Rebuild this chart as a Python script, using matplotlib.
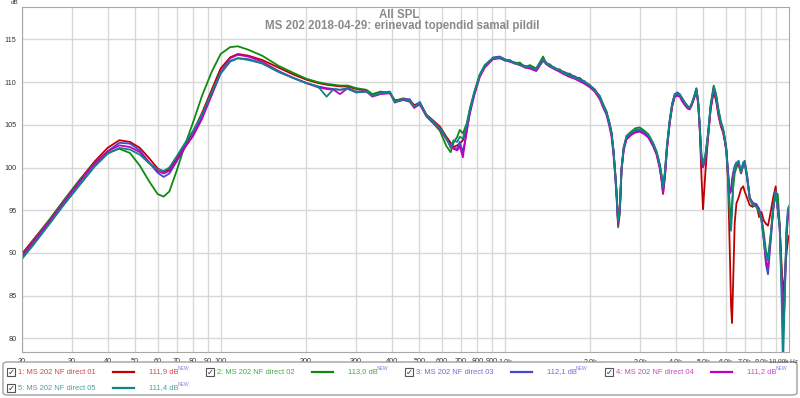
import matplotlib
matplotlib.use("Agg")
import matplotlib.pyplot as plt
from matplotlib.lines import Line2D
from matplotlib.patches import FancyBboxPatch, Rectangle

plt.rcParams["font.family"] = ["Liberation Sans", "DejaVu Sans"]

freq = [20, 22, 25, 28, 32, 36, 40, 44, 48, 52, 56, 60, 63, 66, 70, 75, 80, 86, 93, 100,
        108, 115, 125, 140, 160, 180, 200, 220, 236, 250, 263, 280, 300,
        326, 342, 365, 394, 410, 440, 463, 480, 502, 530, 560, 591, 623, 645, 660, 680, 694, 712,
        735, 753, 780, 816, 850, 885, 909, 960, 1000, 1041, 1080, 1129, 1180, 1224, 1290, 1364,
        1400, 1440, 1500, 1561, 1620, 1693, 1760, 1836, 1910, 1990, 2070, 2158, 2220, 2278, 2330,
        2374, 2410, 2439, 2470, 2504, 2540, 2574, 2620, 2680, 2780, 2880, 2984, 3100, 3200, 3324,
        3420, 3510, 3560, 3604, 3660, 3720, 3805, 3880, 3964, 4050, 4128, 4200, 4300, 4400, 4474,
        4550, 4640, 4722, 4790, 4851, 4920, 4983, 5080, 5188, 5300, 5433, 5540, 5650, 5760, 5861,
        5950, 6023, 6100, 6187, 6250, 6302, 6360, 6440, 6531, 6650, 6780, 6900, 6984, 7130, 7274,
        7450, 7680, 7850, 7998, 8150, 8300, 8435, 8600, 8800, 8977, 9130, 9272, 9400, 9524, 9650,
        9800, 9921, 10000]

spl_01 = [89.9, 91.6, 93.9, 96.1, 98.6, 100.7, 102.3, 103.2, 103.0, 102.3, 101.1, 99.9, 99.5, 99.8, 101.0, 102.7, 104.2, 106.4, 109.1, 111.6,
          112.9, 113.3, 113.1, 112.6, 111.7, 110.9, 110.3, 109.9, 109.7, 109.6, 109.5, 109.5, 109.2,
          109.0, 108.5, 108.8, 108.8, 107.8, 108.1, 107.9, 107.3, 107.6, 106.2, 105.5, 104.8, 103.6, 102.9, 102.4, 102.6, 102.8, 103.2,
          104.8, 106.6, 108.6, 110.8, 111.9, 112.4, 112.8, 112.8, 112.6, 112.5, 112.3, 112.2, 111.8, 111.9, 111.5, 112.8,
          112.2, 112.0, 111.6, 111.4, 111.1, 110.9, 110.6, 110.4, 110.0, 109.6, 109.1, 108.3, 107.2, 106.5, 105.2,
          104.0, 102.0, 100.0, 97.5, 93.8, 95.5, 99.8, 102.2, 103.4, 103.9, 104.2, 104.3, 104.0, 103.6, 102.6,
          101.6, 100.0, 98.6, 96.9, 99.0, 102.2, 105.3, 107.2, 108.4, 108.5, 108.4, 108.0, 107.5, 107.0, 106.9,
          107.4, 108.2, 109.1, 107.5, 104.5, 99.0, 95.1, 99.5, 103.4, 106.8, 108.9, 107.8, 106.0, 104.8, 104.1,
          103.0, 101.8, 98.5, 90.5, 84.0, 81.8, 86.5, 93.5, 95.8, 96.5, 97.5, 97.8, 97.2, 96.4, 95.6,
          95.4, 95.7, 94.2, 94.8, 93.8, 93.4, 93.2, 94.6, 96.5, 97.8, 95.0, 93.0, 89.0, 85.3, 87.0,
          90.0, 91.5, 92.0]

spl_02 = [89.7, 91.5, 93.9, 96.1, 98.6, 100.5, 101.7, 102.2, 101.7, 100.2, 98.4, 96.9, 96.6, 97.2, 99.6, 102.7, 105.3, 108.4, 111.2, 113.3,
          114.1, 114.2, 113.8, 113.1, 111.9, 111.1, 110.4, 110.0, 109.8, 109.7, 109.6, 109.6, 109.3,
          109.1, 108.6, 108.9, 108.7, 107.9, 108.0, 107.8, 107.1, 107.5, 106.0, 105.2, 104.3, 102.5, 101.8, 102.9, 103.6, 104.4, 104.0,
          105.2, 106.9, 108.8, 110.9, 112.0, 112.5, 112.7, 112.9, 112.5, 112.6, 112.2, 112.3, 111.7, 112.0, 111.6, 113.0,
          112.1, 112.1, 111.5, 111.5, 111.0, 111.0, 110.5, 110.5, 109.9, 109.7, 109.0, 108.4, 107.4, 106.6, 105.4,
          104.2, 102.2, 99.8, 97.0, 93.0, 94.6, 99.6, 102.4, 103.7, 104.2, 104.6, 104.7, 104.3, 103.9, 102.9,
          101.9, 100.4, 99.2, 97.7, 99.6, 102.6, 105.6, 107.5, 108.6, 108.7, 108.5, 108.2, 107.6, 107.2, 107.0,
          107.5, 108.4, 109.3, 107.8, 105.0, 101.5, 100.4, 101.5, 104.0, 107.4, 109.6, 108.6, 106.8, 105.4, 104.6,
          103.4, 102.2, 99.0, 95.5, 94.0, 95.5, 97.6, 99.3, 100.0, 100.4, 99.3, 100.2, 100.4, 98.6, 96.4,
          95.6, 95.4, 94.8, 94.2, 92.4, 90.2, 89.4, 91.8, 95.2, 97.0, 96.9, 93.4, 88.0, 83.0, 86.0,
          92.0, 94.5, 95.0]

spl_03 = [89.4, 91.1, 93.5, 95.6, 98.1, 100.2, 101.9, 102.9, 102.8, 102.0, 100.6, 99.4, 98.9, 99.3, 100.7, 102.4, 103.8, 105.9, 108.5, 111.0,
          112.4, 112.8, 112.7, 112.2, 111.2, 110.5, 109.9, 109.5, 109.3, 109.2, 109.1, 109.3, 108.9,
          108.9, 108.4, 108.7, 108.9, 107.6, 108.0, 108.0, 107.0, 107.7, 106.1, 105.4, 104.6, 103.4, 102.5, 102.3, 102.2, 103.0, 101.8,
          104.2, 106.4, 108.6, 110.7, 111.8, 112.5, 112.9, 113.0, 112.7, 112.4, 112.3, 112.0, 111.9, 111.7, 111.6, 112.6,
          112.3, 111.9, 111.7, 111.3, 111.2, 110.8, 110.7, 110.3, 110.1, 109.5, 109.2, 108.2, 107.3, 106.4, 105.3,
          103.9, 102.1, 99.9, 97.4, 93.6, 95.2, 99.9, 102.3, 103.5, 104.0, 104.3, 104.4, 104.1, 103.7, 102.7,
          101.7, 100.2, 98.9, 97.4, 99.3, 102.4, 105.5, 107.4, 108.6, 108.8, 108.6, 108.1, 107.6, 107.1, 107.0,
          107.5, 108.3, 109.2, 107.7, 104.9, 101.0, 100.2, 101.2, 103.8, 107.1, 109.3, 108.3, 106.4, 105.1, 104.4,
          103.2, 102.0, 99.6, 97.0, 97.2, 98.6, 99.4, 100.2, 100.6, 100.5, 99.6, 100.5, 100.8, 99.0, 96.5,
          95.9, 95.7, 95.2, 94.0, 91.5, 88.6, 87.5, 91.0, 95.0, 97.3, 95.0, 93.1, 87.0, 80.5, 84.0,
          92.5, 95.0, 95.3]

spl_04 = [89.6, 91.4, 93.7, 95.9, 98.4, 100.5, 101.9, 102.6, 102.4, 101.8, 100.6, 99.6, 99.3, 99.6, 100.8, 102.4, 103.7, 105.7, 108.5, 111.2,
          112.8, 113.2, 113.0, 112.4, 111.3, 110.5, 109.9, 109.4, 109.2, 109.1, 108.6, 109.3, 108.8,
          108.9, 108.3, 108.6, 108.7, 107.7, 107.9, 107.7, 107.0, 107.4, 106.0, 105.2, 104.5, 103.3, 102.6, 102.2, 102.0, 102.5, 101.2,
          104.5, 106.3, 108.4, 110.6, 111.7, 112.3, 112.7, 112.8, 112.6, 112.4, 112.2, 112.0, 111.7, 111.6, 111.3, 112.5,
          112.1, 111.8, 111.5, 111.2, 110.9, 110.6, 110.4, 110.1, 109.8, 109.4, 108.9, 108.0, 107.0, 106.2, 104.9,
          103.6, 101.6, 99.5, 96.8, 93.3, 95.0, 99.6, 102.0, 103.3, 103.8, 104.1, 104.2, 103.9, 103.5, 102.5,
          101.5, 99.9, 98.5, 97.0, 98.9, 102.1, 105.2, 107.1, 108.3, 108.4, 108.3, 107.8, 107.3, 106.9, 106.8,
          107.3, 108.1, 109.0, 107.5, 104.6, 100.8, 100.0, 101.0, 103.6, 106.9, 109.1, 108.2, 106.3, 105.0, 104.2,
          103.1, 101.9, 99.4, 97.0, 97.3, 98.2, 99.2, 100.0, 100.4, 100.3, 99.4, 100.3, 100.6, 98.8, 96.4,
          95.8, 95.5, 95.0, 94.0, 91.8, 89.0, 88.3, 91.4, 95.2, 97.2, 95.4, 93.2, 88.0, 82.0, 85.0,
          92.0, 94.6, 95.0]

spl_05 = [89.3, 91.0, 93.4, 95.6, 98.0, 100.1, 101.6, 102.3, 102.1, 101.5, 100.5, 99.8, 99.6, 100.0, 101.3, 102.9, 104.3, 106.2, 108.8, 111.1,
          112.5, 112.8, 112.6, 112.2, 111.2, 110.5, 109.9, 109.5, 108.3, 109.2, 109.1, 109.2, 108.8,
          108.9, 108.4, 108.7, 108.8, 107.7, 108.0, 107.8, 107.1, 107.6, 106.1, 105.3, 104.6, 103.4, 102.3, 103.2, 103.0, 103.6, 103.4,
          105.0, 106.7, 108.7, 110.8, 111.9, 112.5, 112.8, 112.9, 112.6, 112.5, 112.2, 112.1, 111.8, 111.8, 111.5, 112.7,
          112.2, 111.9, 111.6, 111.4, 111.0, 110.8, 110.5, 110.3, 110.0, 109.6, 109.1, 108.3, 107.2, 106.5, 105.2,
          104.0, 102.0, 99.8, 97.2, 93.7, 95.3, 99.8, 102.3, 103.6, 104.1, 104.4, 104.5, 104.2, 103.8, 102.8,
          101.8, 100.3, 99.0, 97.6, 99.4, 102.5, 105.5, 107.4, 108.5, 108.6, 108.5, 108.1, 107.6, 107.1, 107.0,
          107.5, 108.3, 109.2, 107.7, 105.0, 101.2, 100.4, 101.4, 103.9, 107.2, 109.4, 108.4, 106.6, 105.2, 104.5,
          103.3, 101.9, 99.0, 94.5, 92.6, 94.5, 98.5, 100.0, 100.5, 100.8, 99.5, 100.6, 100.7, 98.8, 96.3,
          95.7, 95.4, 94.9, 93.8, 91.6, 89.8, 89.1, 91.6, 95.3, 97.2, 95.2, 93.0, 86.0, 76.5, 84.0,
          93.0, 95.2, 95.5]

names = ["1: MS 202 NF direct 01", "2: MS 202 NF direct 02", "3: MS 202 NF direct 03",
         "4: MS 202 NF direct 04", "5: MS 202 NF direct 05"]
levels = ["111,9 dB", "113,0 dB", "112,1 dB", "111,2 dB", "111,4 dB"]
line_colors = ["#c00000", "#108a10", "#4848c8", "#c000c0", "#108585"]
text_colors = ["#d04848", "#48a848", "#6c6cd8", "#c848c8", "#48a0a0"]

x_ticks = [20, 30, 40, 50, 60, 70, 80, 90, 100, 200, 300, 400, 500, 600, 700, 800, 900,
           1000, 2000, 3000, 4000, 5000, 6000, 7000, 8000, 9000]
x_labels = ["20", "30", "40", "50", "60", "70", "80", "90", "100", "200", "300", "400", "500",
            "600", "700", "800", "900", "1,0k", "2,0k", "3,0k", "4,0k", "5,0k", "6,0k", "7,0k",
            "8,0k", ""]
y_ticks = [80, 85, 90, 95, 100, 105, 110, 115]

all_series = [spl_01, spl_02, spl_03, spl_04, spl_05]

fig = plt.figure(figsize=(8, 3.98), dpi=100)
ax = fig.add_axes([22 / 800, 46 / 398, 767 / 800, 345 / 398])

for vals, col in zip(all_series, line_colors):
    ax.semilogx(freq, vals, color=col, linewidth=1.3)

ax.set_xlim(20, 10000)
ax.set_ylim(78.4, 118.8)
ax.minorticks_off()
ax.set_xticks(x_ticks)
ax.set_xticklabels(x_labels)
ax.set_yticks(y_ticks)
ax.tick_params(axis="both", length=0, labelsize=5.2, colors="#333333", pad=4)
ax.grid(True, color="#d8d8d8", linewidth=1)
for s in ax.spines.values():
    s.set_color("#a8a8a8")

fig.text(798 / 800, 1 - 361 / 398, "10,00k Hz", fontsize=4.6, color="#333333", ha="right", va="center")
fig.text(15 / 800, 1 - 2.5 / 398, "dB", fontsize=4.5, color="#333333", ha="center", va="center")

fig.text(399 / 800, 1 - 14.5 / 398, "All SPL", fontsize=8.3, fontweight="bold", color="#8a8a8a",
         ha="center", va="center")
fig.text(402 / 800, 1 - 25.5 / 398, "MS 202 2018-04-29: erinevad topendid samal pildil",
         fontsize=8.3, fontweight="bold", color="#8a8a8a", ha="center", va="center")

# legend panel
fig.patches.append(FancyBboxPatch((3 / 800, 3 / 398), 794 / 800, 33 / 398,
                                  boxstyle="round,pad=0,rounding_size=0.006",
                                  transform=fig.transFigure, facecolor="white",
                                  edgecolor="#a0a0a0", linewidth=1))
slots = [(5, 372), (204, 372), (403, 372), (603, 372), (5, 388)]
for (x0, y0), name, lev, lc, tc in zip(slots, names, levels, line_colors, text_colors):
    yf = 1 - y0 / 398
    fig.patches.append(Rectangle(((x0 + 2) / 800, yf - 4 / 398), 8 / 800, 8 / 398,
                                 transform=fig.transFigure, facecolor="white",
                                 edgecolor="#555555", linewidth=0.8))
    fig.text((x0 + 2.5) / 800, yf, "\u2713", fontsize=6, color="#333333", ha="left", va="center",
             family="DejaVu Sans")
    fig.text((x0 + 13) / 800, yf, name, fontsize=5.4, color=tc, ha="left", va="center")
    fig.lines.append(Line2D([(x0 + 108) / 800, (x0 + 129) / 800], [yf, yf],
                            transform=fig.transFigure, color=lc, linewidth=1.6))
    fig.text((x0 + 144) / 800, yf, lev, fontsize=5.4, color=tc, ha="left", va="center")
    fig.text((x0 + 173) / 800, yf + 4 / 398, "NEW", fontsize=3.6, color="#8080e0", ha="left", va="center")

plt.savefig("out.png", dpi=100)
